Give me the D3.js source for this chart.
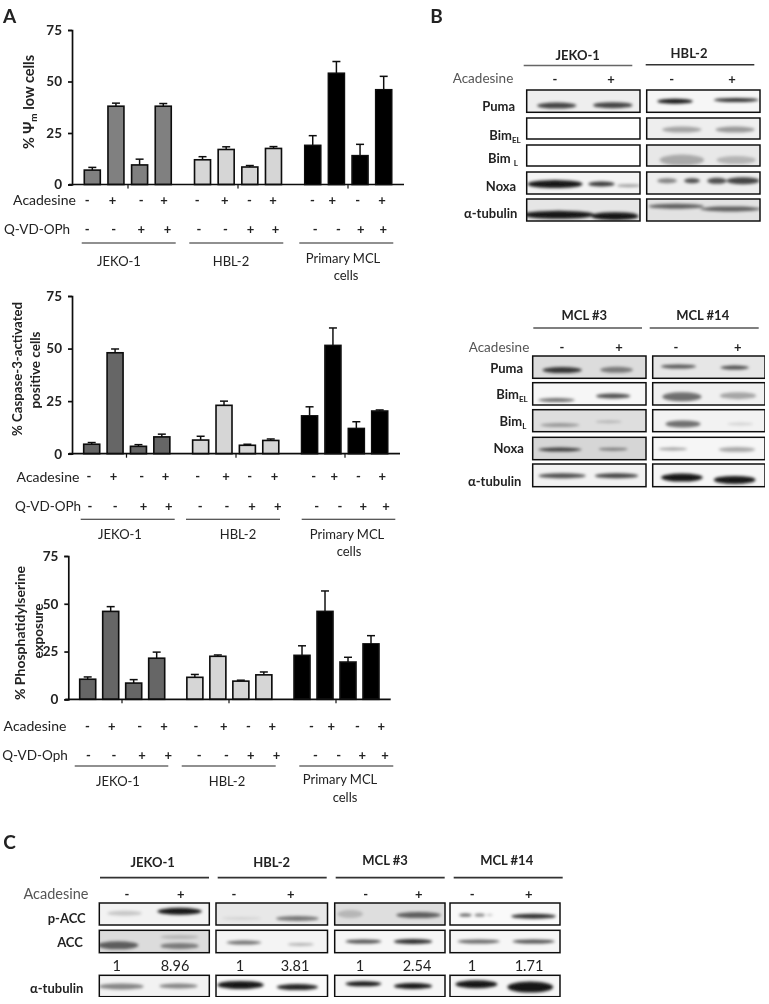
<!DOCTYPE html>
<html><head><meta charset="utf-8">
<script src="https://cdn.jsdelivr.net/npm/d3@7/dist/d3.min.js"></script>
<style>
html,body{margin:0;padding:0;background:#fff}
svg{display:block}
text{font-family:Lato,"Open Sans",sans-serif;fill:#222}
</style></head><body><div id="c"></div>
<script>
// ---------- DATA ----------
const groups = ["JEKO-1", "HBL-2", "Primary MCL"];
const acadesine = ["-","+","-","+"];
const qvd = ["-","-","+","+"];
const yTicks = [0,25,50,75];

const psiValues = [7,38,9.5,38, 12,17,8.5,17.5, 19,54,14,46];
const psiTops   = [8.3,39.5,12.3,39.3, 13.5,18.3,9.2,18.4, 23.7,59.7,19.5,52.5];
const casValues = [4.5,48,3.5,8, 6.5,23,4,6.3, 18,51.5,12,20.3];
const casTops   = [5.3,49.8,4.3,9.3, 8.3,25,4.5,7, 22.3,59.8,15.2,20.8];
const psValues  = [10.5,46,8.5,21.5, 11.5,22.5,9.5,12.8, 23,46,19.5,29];
const psTops    = [11.7,48.5,10.3,24.7, 13,23.2,10,14.3, 28,56.7,22,33.3];

// bands: lane centre, height in blot, lane width (all 0-1), thickness, darkness
const jekoB = [
 [[.265,.7,.3,6,.8],[.76,.68,.3,6,.8]], [], [],
 [[.25,.55,.42,8,1],[.66,.55,.2,5,.85],[.9,.62,.18,3,.4]],
 [[.28,.72,.55,8,1],[.78,.78,.36,8,1]]];
const hblB = [
 [[.25,.5,.27,5,1],[.79,.45,.34,4,.9]],
 [[.31,.55,.3,6,.35],[.78,.55,.3,6,.4]],
 [[.31,.72,.34,11,.3],[.79,.72,.3,8,.25]],
 [[.18,.4,.15,5,.5],[.4,.4,.12,5,.75],[.62,.4,.15,6,.75],[.85,.4,.25,7,.8]],
 [[.26,.33,.42,5,.65],[.74,.45,.46,5,.65]]];
const mcl3B = [
 [[.26,.63,.3,6,.85],[.74,.62,.25,6,.5]],
 [[.21,.78,.28,4,.6],[.71,.6,.26,5,.75]],
 [[.24,.7,.3,4,.35],[.67,.55,.2,3,.2]],
 [[.24,.55,.33,4,.8],[.71,.53,.22,3,.5]],
 [[.26,.52,.36,5,.75],[.74,.52,.33,5,.8]]];
const mcl14B = [
 [[.23,.47,.27,4,.7],[.73,.52,.22,4,.75]],
 [[.26,.63,.3,9,.6],[.76,.58,.28,7,.35]],
 [[.27,.65,.27,7,.6],[.78,.65,.2,3,.15]],
 [[.18,.52,.22,3,.4],[.75,.55,.28,5,.35]],
 [[.26,.6,.32,8,1],[.73,.7,.32,8,1]]];
const jekoC = [
 [[.23,.47,.27,5,.2],[.73,.38,.35,7,1]],
 [[.17,.67,.32,8,.65],[.73,.7,.3,6,.5],[.73,.3,.3,4,.2]],
 [[.2,.52,.35,6,.5],[.72,.5,.3,5,.5]]];
const hblC = [
 [[.23,.7,.3,3,.1],[.73,.7,.33,5,.55]],
 [[.25,.55,.27,4,.6],[.76,.63,.2,3,.3]],
 [[.22,.45,.36,8,1],[.73,.55,.32,6,.95]]];
const mcl3C = [
 [[.14,.5,.2,8,.2],[.76,.55,.35,6,.65]],
 [[.26,.5,.28,4,.75],[.71,.5,.3,5,.9]],
 [[.26,.4,.28,5,1],[.71,.5,.3,6,1]]];
const mcl14C = [
 [[.14,.55,.1,3,.7],[.27,.55,.08,3,.55],[.36,.55,.05,2,.25],[.76,.6,.35,5,.9]],
 [[.26,.5,.33,4,.65],[.76,.5,.33,4,.75]],
 [[.24,.42,.33,8,1],[.73,.55,.36,11,1]]];
const ratios = ["1","8.96","1","3.81","1","2.54","1","1.71"];

// ---------- LAYOUT ----------
const barFills = ["#808080","#d6d6d6","#000"];
const barFills2 = ["#666","#d6d6d6","#000"];
const W=769,H=1004;
const svg=d3.select("#c").append("svg").attr("width",W).attr("height",H);
const defs=svg.append("defs");
defs.append("filter").attr("id","soft").attr("x","0").attr("y","0").attr("width","100%").attr("height","100%")
  .append("feGaussianBlur").attr("stdDeviation",0.45);
defs.append("filter").attr("id","bandBlur").attr("x","-30%").attr("y","-150%").attr("width","160%").attr("height","400%")
  .append("feGaussianBlur").attr("stdDeviation",1.5);
const root=svg.append("g").attr("filter","url(#soft)");

function text(g,x,y,s,o={}){
  return g.append("text").attr("x",x).attr("y",y).attr("dy","0.35em")
    .attr("text-anchor",o.anchor||"middle").attr("font-size",o.size||13)
    .attr("font-weight",o.weight||400).text(s);
}

function barPanel(p){
  const g=root.append("g");
  const slot=(i)=>Math.floor(i/4)*4.66+(i%4);
  const x=d3.scaleLinear().domain([0,slot(11)]).range(p.xr);
  const y=d3.scaleLinear().domain([0,75]).range([p.y0,p.y75]);
  const bw=16;
  const eb=g.append("g").attr("stroke","#111").attr("stroke-width",1.5);
  p.vals.forEach((v,i)=>{
    eb.append("line").attr("x1",x(slot(i))).attr("x2",x(slot(i))).attr("y1",y(v)).attr("y2",y(p.tops[i]));
    eb.append("line").attr("x1",x(slot(i))-4).attr("x2",x(slot(i))+4).attr("y1",y(p.tops[i])).attr("y2",y(p.tops[i]));
  });
  g.selectAll("rect.bar").data(p.vals).join("rect").attr("class","bar")
    .attr("x",(d,i)=>x(slot(i))-bw/2).attr("width",bw)
    .attr("y",d=>y(d)).attr("height",d=>y(0)-y(d))
    .attr("fill",(d,i)=>p.fills[Math.floor(i/4)])
    .attr("stroke","#0a0a0a").attr("stroke-width",1.6);
  const ax=g.append("g").attr("transform",`translate(${p.ax},0)`)
    .call(d3.axisLeft(y).tickValues(yTicks).tickSize(4).tickPadding(6));
  ax.selectAll("path,line").attr("stroke","#111").attr("stroke-width",1.7);
  ax.selectAll("text").attr("font-size",13.5).attr("font-weight",700).style("font-family","Lato");
  g.append("line").attr("x1",p.ax-3).attr("x2",p.xEnd).attr("y1",y(0)).attr("y2",y(0)).attr("stroke","#111").attr("stroke-width",1.7);
  p.gt.forEach(t=>g.append("line").attr("x1",t).attr("x2",t).attr("y1",y(0)).attr("y2",y(0)+4).attr("stroke","#111").attr("stroke-width",1.2));
  text(g,p.labelX,p.acadY,"Acadesine",{size:14});
  text(g,p.qvdX,p.qvdY,p.qvdName,{size:13.5});
  d3.range(12).forEach(i=>{
    text(g,x(slot(i))+p.acadDx[i]/3,p.acadY,acadesine[i%4],{size:13,weight:700});
    text(g,x(slot(i))+p.qvdDx[i]/3,p.qvdY,qvd[i%4],{size:13,weight:700});
  });
  p.lines.forEach(l=>g.append("line").attr("x1",l[0]).attr("x2",l[1]).attr("y1",p.lineY).attr("y2",p.lineY).attr("stroke","#222").attr("stroke-width",1.1));
  groups.forEach((n,i)=>text(g,p.gx[i],p.gy[i],n,{size:13}));
  text(g,p.cells[0],p.cells[1],"cells",{size:13});
  p.titles.forEach(t=>{
    const tx=g.append("text").attr("transform",`translate(${t.x},${t.y}) rotate(-90)`)
      .attr("text-anchor","middle").attr("dy","0.35em").attr("font-size",t.size||14.5).attr("font-weight",700);
    t.parts.forEach(q=>{
      const s=tx.append("tspan").text(q[0]);
      if(q[1]) s.attr("font-size",10).attr("dy","0.3em");
      else if(q[2]) s.attr("dy","-0.2em");
    });
  });
}

barPanel({vals:psiValues,tops:psiTops,fills:barFills,xr:[92.3,383.7],y0:184.5,y75:30,ax:72,xEnd:404,gt:[128,238,348],
 labelX:44.5,acadY:200,qvdX:37,qvdY:229,qvdName:"Q-VD-OPh",
 acadDx:[-15,-10,5,2,-16,-4,-1,-1,-1,-12,-7,-5],qvdDx:[-15,-7,5,13,-11,-2,2,6,7,6,2,-1],
 lineY:243,lines:[[81.7,175.7],[189.3,283.3],[299.3,393.3]],
 gx:[119,231,343],gy:[261,261,258],cells:[346,275],
 titles:[{x:29,y:102,parts:[["% Ψ"],["m",1],[" low cells",0,1]]}]});

barPanel({vals:casValues,tops:casTops,fills:barFills2,xr:[91.7,379.7],y0:453.7,y75:296,ax:72,xEnd:400,gt:[126.5,236,345],
 labelX:48,acadY:476.7,qvdX:48,qvdY:506,qvdName:"Q-VD-OPh",
 acadDx:[-8,-5,10,11,-9,6,7,11,12,4,6,8],qvdDx:[-5,0,15,21,-1,9,14,21,21,21,21,19],
 lineY:519.3,lines:[[80.7,174.7],[186,280],[301.7,395.3]],
 gx:[120,238,347],gy:[534,534,534],cells:[349,551.5],
 titles:[{x:17,y:369,size:13.2,parts:[["% Caspase-3-activated"]]},{x:35,y:370,size:13.5,parts:[["positive cells"]]}]});

barPanel({vals:psValues,tops:psTops,fills:barFills2,xr:[87.7,371],y0:699.3,y75:556,ax:68.3,xEnd:390.7,gt:[122,229,336],
 labelX:35,acadY:726.3,qvdX:35,qvdY:755.7,qvdName:"Q-VD-Oph",
 acadDx:[-1,3,18,22,3,18,23,25,28,19,28,31],qvdDx:[2,10,25,35,13,26,30,38,40,41,43,42],
 lineY:766,lines:[[74.7,168.3],[181.7,275.7],[299.3,393.3]],
 gx:[118,227,340],gy:[781,781,779],cells:[345,797],
 titles:[{x:20,y:633,size:14,parts:[["% Phosphatidylserine"]]},{x:38,y:631,size:13.5,parts:[["exposure"]]}]});

// ---------- BLOTS ----------
let clipId=0;
function blot(g,x0,x1,y0,y1,bg,bands){
  const id="cb"+(clipId++);
  defs.append("clipPath").attr("id",id).append("rect").attr("x",x0).attr("y",y0).attr("width",x1-x0).attr("height",y1-y0);
  const sx=d3.scaleLinear().domain([0,1]).range([x0,x1]);
  const sy=d3.scaleLinear().domain([0,1]).range([y0,y1]);
  g.append("rect").attr("x",x0).attr("y",y0).attr("width",x1-x0).attr("height",y1-y0).attr("fill",bg);
  const b=g.append("g").attr("clip-path",`url(#${id})`).append("g").attr("filter","url(#bandBlur)");
  b.selectAll("ellipse").data(bands).join("ellipse")
    .attr("cx",d=>sx(d[0])).attr("cy",d=>sy(d[1]))
    .attr("rx",d=>(sx(d[2])-sx(0))*0.58).attr("ry",d=>d[3]/2)
    .attr("fill","#000").attr("opacity",d=>d[4]*0.9);
  g.append("rect").attr("x",x0).attr("y",y0).attr("width",x1-x0).attr("height",y1-y0)
    .attr("fill","none").attr("stroke","#111").attr("stroke-width",1.5);
}
function label(g,x,y,main,sub,size){
  const t=text(g,x,y,main,{size:size||13,weight:700});
  if(sub) t.append("tspan").attr("font-size",8).attr("dy","0.4em").text(sub);
}
const gB=root.append("g"), gC=root.append("g");

text(root,9.5,16,"A",{size:19,weight:700});
text(root,436.5,16,"B",{size:19,weight:700});
text(root,9.5,842,"C",{size:19,weight:700});

// Panel B top
[["JEKO-1",577.7,55],["HBL-2",689,53]].forEach(h=>text(gB,h[1],h[2],h[0],{size:13,weight:700}));
[[523.7,632.3,65.5,"#666"],[645.7,754.3,64.7,"#333"]].forEach(l=>gB.append("line").attr("x1",l[0]).attr("x2",l[1]).attr("y1",l[2]).attr("y2",l[2]).attr("stroke",l[3]).attr("stroke-width",1.4));
text(gB,483,78,"Acadesine",{size:13.5}).style("fill","#555");
[[555,"-"],[611,"+"],[671.7,"-"],[732,"+"]].forEach(s=>text(gB,s[0],79,s[1],{size:13,weight:700}));
const rowsB=[[90,112.3,"#eee","#f6f6f6"],[118,139,"#fff","#eee"],[145,166,"#fff","#e8e8e8"],[172,194,"#f4f4f4","#eee"],[199,221,"#e6e6e6","#e2e2e2"]];
rowsB.forEach((r,i)=>{
  blot(gB,526.7,640,r[0],r[1],r[2],jekoB[i]);
  blot(gB,646.7,760,r[0],r[1],r[3],hblB[i]);
});
label(gB,498.7,106,"Puma");label(gB,505,135,"Bim","EL");label(gB,503,158,"Bim ","L");label(gB,501,186,"Noxa");label(gB,490.7,213,"α-tubulin");

// Panel B lower
[["MCL #3",584.3,315.7],["MCL #14",702.7,315]].forEach(h=>text(gB,h[1],h[2],h[0],{size:13,weight:700}));
[[533.3,642],[649.7,758.7]].forEach(l=>gB.append("line").attr("x1",l[0]).attr("x2",l[1]).attr("y1",328).attr("y2",328).attr("stroke","#555").attr("stroke-width",1.4));
text(gB,499,347,"Acadesine",{size:13.5}).style("fill","#555");
[[562,"-"],[619,"+"],[676,"-"],[737.7,"+"]].forEach(s=>text(gB,s[0],347,s[1],{size:13,weight:700}));
const rowsB2=[[356,378.3,"#dcdcdc","#e6e6e6"],[382.7,405,"#f6f6f6","#f0f0f0"],[409.7,431.7,"#dedede","#f2f2f2"],[437.3,459.7,"#d6d6d6","#f6f6f6"],[464,486.7,"#f2f2f2","#f6f6f6"]];
rowsB2.forEach((r,i)=>{
  blot(gB,532.7,646,r[0],r[1],r[2],mcl3B[i]);
  blot(gB,652.7,765,r[0],r[1],r[3],mcl14B[i]);
});
label(gB,506.7,368,"Puma");label(gB,512,394,"Bim","EL");label(gB,513,421,"Bim","L");label(gB,508.7,448,"Noxa");label(gB,494.7,481,"α-tubulin");

// Panel C
[["JEKO-1",152.7,862],["HBL-2",271.7,862],["MCL #3",385,860],["MCL #14",506.7,860]].forEach(h=>text(gC,h[1],h[2],h[0],{size:13,weight:700}));
[[100,209],[217.7,326.7],[335.7,444.7],[453.7,562.7]].forEach(l=>gC.append("line").attr("x1",l[0]).attr("x2",l[1]).attr("y1",877.7).attr("y2",877.7).attr("stroke","#333").attr("stroke-width",1.8));
text(gC,56,894,"Acadesine",{size:14.5}).style("fill","#555");
[127,180.7,234,290.7,365.7,418.7,472.3,528.7].forEach((x,i)=>text(gC,x,894,i%2?"+":"-",{size:13,weight:700}));
const colsC=[[99.3,209.3,jekoC,["#f2f2f2","#dcdcdc","#f2f2f2"]],[216,327.5,hblC,["#e8e8e8","#f4f4f4","#fafafa"]],[334.7,445,mcl3C,["#dedede","#f6f6f6","#f6f6f6"]],[450,560,mcl14C,["#fafafa","#f6f6f6","#f6f6f6"]]];
const rowsC=[[903,925],[930.3,952.7],[975.3,996.7]];
colsC.forEach(c=>rowsC.forEach((r,i)=>blot(gC,c[0],c[1],r[0],r[1],c[3][i],c[2][i])));
[116.7,175,240,295,360,417,472,529].forEach((x,i)=>text(gC,x,966,ratios[i],{size:14.5}));
label(gC,66.7,918,"p-ACC");label(gC,70,942,"ACC");label(gC,56.7,988,"α-tubulin");
</script></body></html>
